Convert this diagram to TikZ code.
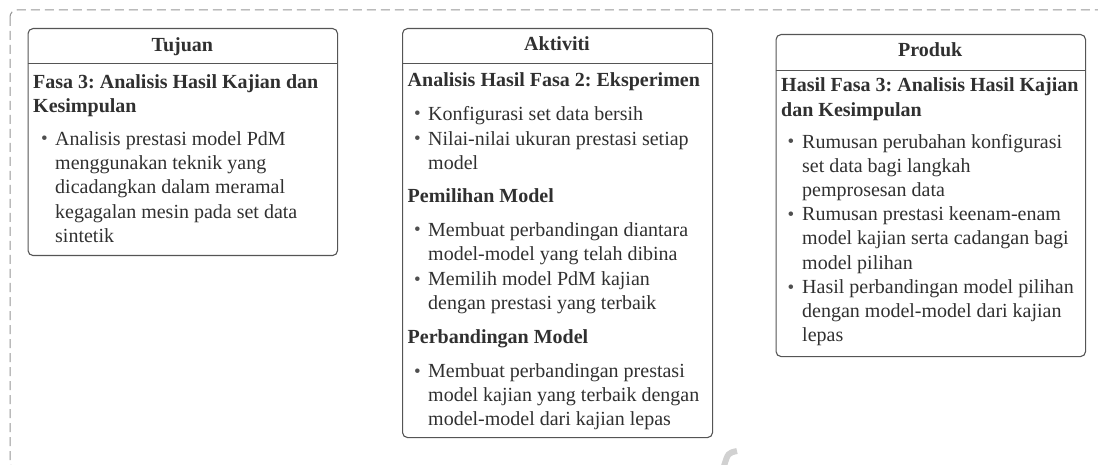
\documentclass[tikz,border=0pt]{standalone}
\usepackage{fontspec}
\setmainfont{Liberation Serif}
\frenchspacing
\definecolor{ink}{HTML}{303030}
\definecolor{edge}{HTML}{555555}
\definecolor{frameline}{HTML}{959595}
\newcommand\bodyfont{\fontsize{20}{24.3}\selectfont}
\begin{document}
\begin{tikzpicture}[x=1pt,y=-1pt,
  frame/.style={draw=frameline, line width=1pt, dash pattern=on 9pt off 5pt, rounded corners=7pt},
  panel/.style={draw=edge, line width=1.1pt, rounded corners=5pt, anchor=north west, inner sep=0pt},
  divider/.style={draw=edge, line width=1pt},
  title/.style={anchor=base, inner sep=0pt, font=\bodyfont\bfseries, text=ink},
  head/.style={anchor=north west, inner sep=0pt, align=left, yshift=17.01pt, font=\bodyfont\bfseries, text=ink},
  item/.style={anchor=north west, inner sep=0pt, align=left, yshift=17.01pt, font=\bodyfont, text=ink},
  dot/.style={anchor=base, inner sep=0pt, font=\fontsize{19}{19}\selectfont, text=ink!85}
]
\useasboundingbox (0,0) rectangle (1098,465);

% outer dashed frame, running off the right and bottom edges
\draw[frame] (10,10) rectangle (1114,469);

% ---------- Tujuan ----------
\node[panel, minimum width=309.5pt, minimum height=227pt] (tuj) at (27.5,28) {};
\draw[divider] (tuj.west |- 0,63.5) -- (tuj.east |- 0,63.5);
\node[title] (tujT) at (182.3,52) {Tujuan};
\node[head] (tujH) at (33,88) {\strut Fasa 3: Analisis Hasil Kajian dan\\Kesimpulan};
\node[dot] (tujD1) at (44.5,145) {\textbullet};
\node[item] (tujI1) at (55,145) {\strut Analisis prestasi model PdM\\menggunakan teknik yang\\dicadangkan dalam meramal\\kegagalan mesin pada set data\\sintetik};

% ---------- Aktiviti ----------
\node[panel, minimum width=310pt, minimum height=409pt] (akt) at (402,28) {};
\draw[divider] (akt.west |- 0,64) -- (akt.east |- 0,64);
\node[title] (aktT) at (557,51) {Aktiviti};
\node[head] (aktH1) at (407.5,86.7) {\strut Analisis Hasil Fasa 2: Eksperimen};
\node[dot] (aktD1) at (417.5,120) {\textbullet};
\node[item] (aktI1) at (428,120) {\strut Konfigurasi set data bersih};
\node[dot] (aktD2) at (417.5,145) {\textbullet};
\node[item] (aktI2) at (428,145) {\strut Nilai-nilai ukuran prestasi setiap\\model};
\node[head] (aktH2) at (407.5,202.7) {\strut Pemilihan Model};
\node[dot] (aktD3) at (417.5,236) {\textbullet};
\node[item] (aktI3) at (428,236) {\strut Membuat perbandingan diantara\\model-model yang telah dibina};
\node[dot] (aktD4) at (417.5,285) {\textbullet};
\node[item] (aktI4) at (428,285) {\strut Memilih model PdM kajian\\dengan prestasi yang terbaik};
\node[head] (aktH3) at (407.5,343) {\strut Perbandingan Model};
\node[dot] (aktD5) at (417.5,377) {\textbullet};
\node[item] (aktI5) at (428,377) {\strut Membuat perbandingan prestasi\\model kajian yang terbaik dengan\\model-model dari kajian lepas};

% ---------- Produk ----------
\node[panel, minimum width=309.5pt, minimum height=322pt] (pro) at (775.5,34) {};
\draw[divider] (pro.west |- 0,70.7) -- (pro.east |- 0,70.7);
\node[title] (proT) at (930.2,57) {Produk};
\node[head] (proH) at (781,91.7) {\strut Hasil Fasa 3: Analisis Hasil Kajian\\dan Kesimpulan};
\node[dot] (proD1) at (791,148) {\textbullet};
\node[item] (proI1) at (802,148) {\strut Rumusan perubahan konfigurasi\\set data bagi langkah\\pemprosesan data};
\node[dot] (proD2) at (791,220.5) {\textbullet};
\node[item] (proI2) at (802,220.5) {\strut Rumusan prestasi keenam-enam\\model kajian serta cadangan bagi\\model pilihan};
\node[dot] (proD3) at (791,293) {\textbullet};
\node[item] (proI3) at (802,293) {\strut Hasil perbandingan model pilihan\\dengan model-model dari kajian\\lepas};

% faint grey mark near the lower edge
\draw[black!18, line width=6pt] (737,451) .. controls (728,453) .. (724,466);
\end{tikzpicture}
\end{document}
